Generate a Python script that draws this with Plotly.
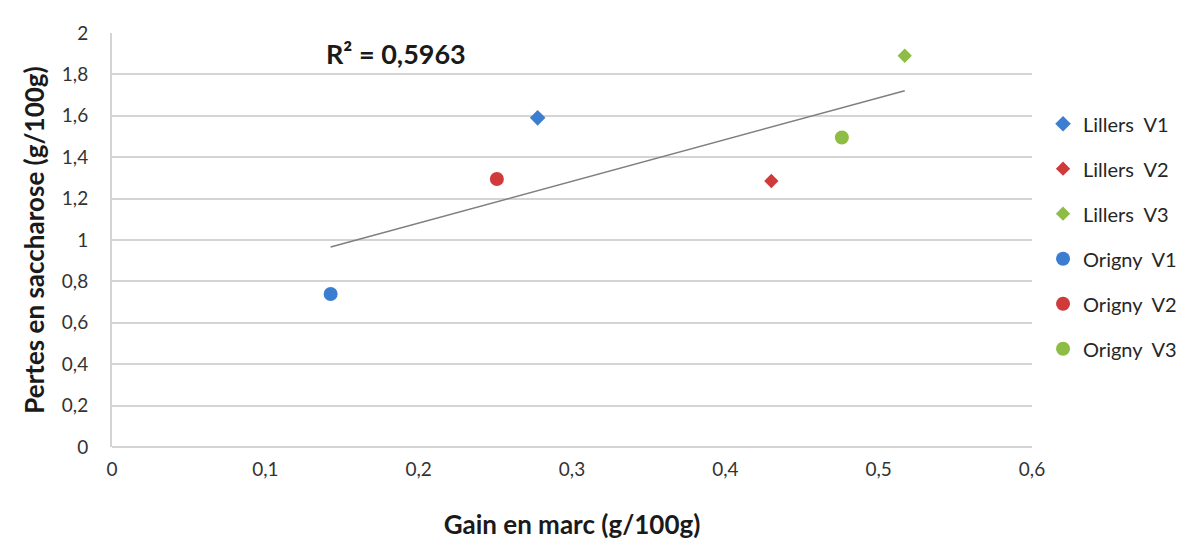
import numpy as np
import plotly.graph_objects as go

# Data
series_names = ["Lillers\u00a0\u00a0V1", "Lillers\u00a0\u00a0V2", "Lillers\u00a0\u00a0V3",
                "Origny\u00a0\u00a0V1", "Origny\u00a0\u00a0V2", "Origny\u00a0\u00a0V3"]
series_x = [0.2776, 0.430, 0.517, 0.1426, 0.251, 0.476]
series_y = [1.59, 1.285, 1.89, 0.739, 1.295, 1.495]
series_symbols = ["diamond", "diamond", "diamond", "circle", "circle", "circle"]
series_colors = ["#3B7DD0", "#D03A3A", "#8DBD44", "#3B7DD0", "#D03A3A", "#8DBD44"]
series_sizes = [12, 11, 11, 14, 14, 14]

x_tickvals = [0, 0.1, 0.2, 0.3, 0.4, 0.5, 0.6]
x_ticktext = ["0", "0,1", "0,2", "0,3", "0,4", "0,5", "0,6"]
y_tickvals = [0, 0.2, 0.4, 0.6, 0.8, 1.0, 1.2, 1.4, 1.6, 1.8, 2.0]
y_ticktext = ["0", "0,2", "0,4", "0,6", "0,8", "1", "1,2", "1,4", "1,6", "1,8", "2"]
r2_label = "R² = 0,5963"

FONT = "Lato"

fig = go.Figure()

# Linear trend line from the data
xs = np.array(series_x)
ys = np.array(series_y)
slope, intercept = np.polyfit(xs, ys, 1)
tx = np.array([xs.min(), xs.max()])
fig.add_trace(go.Scatter(x=tx, y=slope * tx + intercept, mode="lines",
                         line=dict(color="#7f7f7f", width=1.5),
                         showlegend=False, hoverinfo="skip"))

for i, name in enumerate(series_names):
    fig.add_trace(go.Scatter(
        x=[series_x[i]], y=[series_y[i]], mode="markers", name=name,
        legendgroup=f"g{i}",
        marker=dict(symbol=series_symbols[i], color=series_colors[i],
                    size=series_sizes[i], line=dict(width=0)),
    ))

fig.add_annotation(x=0.1385, y=1.9, xref="x", yref="y", text=f"<b>{r2_label}</b>",
                   showarrow=False, xanchor="left", yanchor="middle",
                   font=dict(family=FONT, size=27, color="#1a1a1a"))

fig.update_layout(
    width=1199, height=548,
    paper_bgcolor="white", plot_bgcolor="white",
    margin=dict(l=104, r=175, t=25, b=109),
    font=dict(family=FONT, color="#404040"),
    legend=dict(x=1.012, y=0.828, xanchor="left", yanchor="top",
                font=dict(family=FONT, size=20, color="#262626"),
                tracegroupgap=16, itemwidth=30, itemsizing="trace"),
    xaxis=dict(range=[0, 0.6], tickvals=x_tickvals, ticktext=x_ticktext,
               showgrid=False, zeroline=False, showline=False, automargin=False,
               tickfont=dict(family=FONT, size=19, color="#333333"),
               ticks="", ticklabelstandoff=9,
               title=dict(text="<b>Gain en marc (g/100g)</b>",
                          font=dict(family=FONT, size=26, color="#1a1a1a"),
                          standoff=36)),
    yaxis=dict(range=[0, 2], tickvals=y_tickvals, ticktext=y_ticktext,
               showgrid=True, gridcolor="#d4d4d4", gridwidth=2,
               zeroline=True, zerolinecolor="#d4d4d4", zerolinewidth=2,
               showline=True, linecolor="#d4d4d4", linewidth=2, automargin=False,
               tickfont=dict(family=FONT, size=19, color="#333333"),
               ticks="", ticklabelstandoff=18,
               title=dict(text="<b>Pertes en saccharose (g/100g)</b>",
                          font=dict(family=FONT, size=26, color="#1a1a1a"),
                          standoff=10)),
)

fig.write_html("out.html")
